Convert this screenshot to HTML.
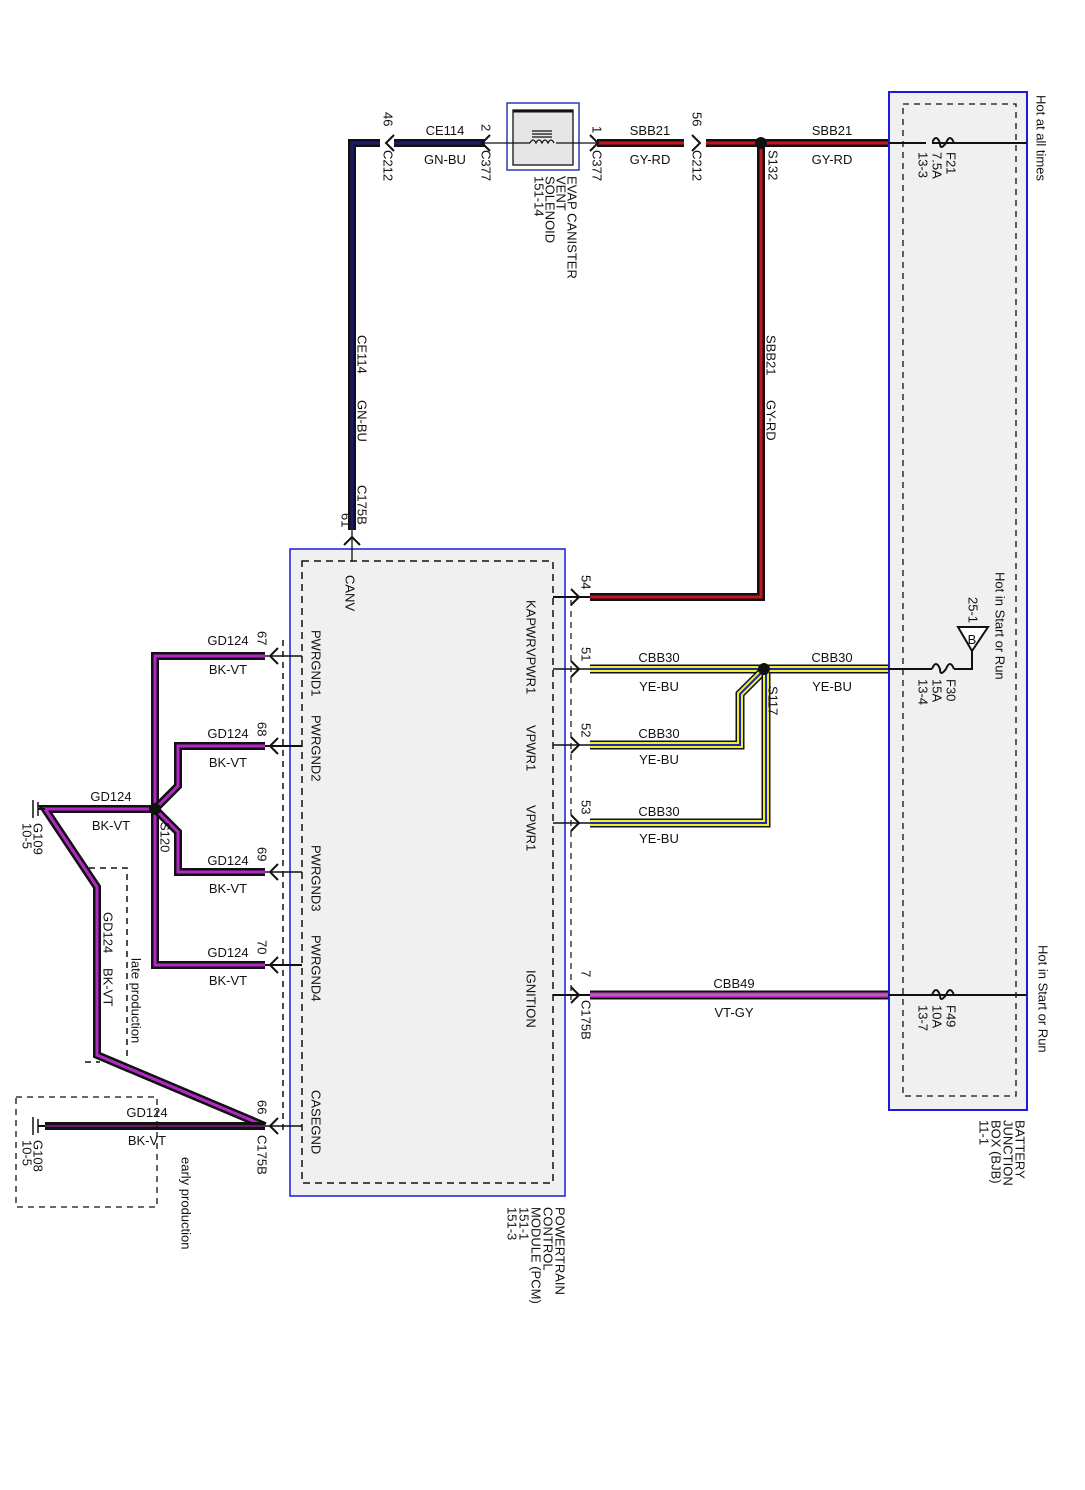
<!DOCTYPE html>
<html><head><meta charset="utf-8"><style>
html,body{margin:0;padding:0;background:#fff}
svg{display:block}
text{font-family:"Liberation Sans",sans-serif;font-size:13px;fill:#111}
.r{dominant-baseline:central}
</style></head><body>
<svg width="1085" height="1490" viewBox="0 0 1085 1490" xmlns="http://www.w3.org/2000/svg">
<!-- BJB box -->
<rect x="889" y="92" width="138" height="1018" fill="#f0f0f0" stroke="#1a1adc" stroke-width="2"/>
<rect x="903" y="104" width="113" height="992" fill="none" stroke="#111" stroke-width="1.3" stroke-dasharray="6,5"/>
<!-- PCM box -->
<rect x="290" y="549" width="275" height="647" fill="#f0f0f0" stroke="#1a1adc" stroke-width="1.5"/>
<rect x="302" y="561" width="251" height="622" fill="none" stroke="#111" stroke-width="1.5" stroke-dasharray="7,5"/>
<line x1="571" y1="600" x2="571" y2="1000" stroke="#111" stroke-width="1.2" stroke-dasharray="6,5"/>
<line x1="283" y1="640" x2="283" y2="1130" stroke="#111" stroke-width="1.5" stroke-dasharray="6,5"/>
<!-- EVAP solenoid -->
<rect x="507" y="103" width="72" height="67" fill="#fff" stroke="#2a3ab0" stroke-width="1.5"/>
<rect x="513" y="110" width="60" height="55" fill="#e6e6e6" stroke="#111" stroke-width="1.3"/>
<line x1="513" y1="111" x2="573" y2="111" stroke="#111" stroke-width="3"/>
<line x1="460" y1="143" x2="530" y2="143" stroke="#111" stroke-width="1.3"/>
<line x1="556" y1="143" x2="600" y2="143" stroke="#111" stroke-width="1.3"/>
<path d="M530 143 q3 -6 6 0 q3 -6 6 0 q3 -6 6 0 q3 -6 6 0" fill="none" stroke="#111" stroke-width="1.3"/>
<line x1="532" y1="131" x2="552" y2="131" stroke="#111" stroke-width="1.2"/>
<line x1="532" y1="134" x2="552" y2="134" stroke="#111" stroke-width="1.2"/>
<line x1="532" y1="137" x2="552" y2="137" stroke="#111" stroke-width="1.2"/>

<!-- CE114 wire -->
<g fill="none" stroke-linejoin="miter">
<path d="M485 143 H352 V530" stroke="#111" stroke-width="8"/>
<path d="M485 143 H352 V530" stroke="#1a1a70" stroke-width="3"/>
<rect x="380" y="138" width="14" height="10" fill="#fff" stroke="none"/>
<line x1="352" y1="530" x2="352" y2="561" stroke="#111" stroke-width="1.3"/>
<!-- SBB21 -->
<path d="M597 143 H888" stroke="#111" stroke-width="8"/>
<path d="M597 143 H888" stroke="#c8141e" stroke-width="3"/>
<rect x="684" y="138" width="22" height="10" fill="#fff" stroke="none"/>
<path d="M761 143 V597 H590" stroke="#111" stroke-width="8"/>
<path d="M761 143 V597 H590" stroke="#c8141e" stroke-width="3"/>
<line x1="553" y1="597" x2="590" y2="597" stroke="#111" stroke-width="2"/>
<line x1="888" y1="143" x2="1027" y2="143" stroke="#111" stroke-width="2"/>
<!-- CBB30 -->
<path d="M590 669 H888" stroke="#111" stroke-width="9"/>
<path d="M590 669 H888" stroke="#f2ee2a" stroke-width="6"/>
<path d="M590 669 H888" stroke="#1a2ab8" stroke-width="2"/>
<path d="M762 672 L740 694 V745 H590" stroke="#111" stroke-width="9"/>
<path d="M762 672 L740 694 V745 H590" stroke="#f2ee2a" stroke-width="6"/>
<path d="M762 672 L740 694 V745 H590" stroke="#1a2ab8" stroke-width="2"/>
<path d="M766 672 V823 H590" stroke="#111" stroke-width="9"/>
<path d="M766 672 V823 H590" stroke="#f2ee2a" stroke-width="6"/>
<path d="M766 672 V823 H590" stroke="#1a2ab8" stroke-width="2"/>
<line x1="553" y1="669" x2="590" y2="669" stroke="#111" stroke-width="1.5"/>
<line x1="553" y1="745" x2="590" y2="745" stroke="#111" stroke-width="1.5"/>
<line x1="553" y1="823" x2="590" y2="823" stroke="#111" stroke-width="1.5"/>
<line x1="888" y1="669" x2="932" y2="669" stroke="#111" stroke-width="2"/>
<!-- CBB49 -->
<path d="M590 995 H888" stroke="#111" stroke-width="9"/>
<path d="M590 995 H888" stroke="#c832c8" stroke-width="5"/>
<path d="M590 995 H888" stroke="#999" stroke-width="1"/>
<line x1="553" y1="995" x2="590" y2="995" stroke="#111" stroke-width="2"/>
<line x1="888" y1="995" x2="1027" y2="995" stroke="#111" stroke-width="2"/>
<!-- GD124 grounds -->
<g id="gw">
<path d="M265 656 H155 V965 H265" stroke="#111" stroke-width="8"/>
<path d="M265 656 H155 V965 H265" stroke="#b428c8" stroke-width="3"/>
<path d="M265 746 H178 V786 L158 806" stroke="#111" stroke-width="8"/>
<path d="M265 746 H178 V786 L158 806" stroke="#b428c8" stroke-width="3"/>
<path d="M158 812 L178 832 V872 H265" stroke="#111" stroke-width="8"/>
<path d="M158 812 L178 832 V872 H265" stroke="#b428c8" stroke-width="3"/>
<path d="M155 809 H45 L97 887 V1055 L265 1126" stroke="#111" stroke-width="8"/>
<path d="M155 809 H45 L97 887 V1055 L265 1126" stroke="#b428c8" stroke-width="3"/>
<path d="M45 1126 H265" stroke="#111" stroke-width="8"/>
<path d="M45 1126 H265" stroke="#6a1a6a" stroke-width="2"/>
</g>
<line x1="265" y1="656" x2="302" y2="656" stroke="#111" stroke-width="1.5"/>
<line x1="265" y1="746" x2="302" y2="746" stroke="#111" stroke-width="2"/>
<line x1="265" y1="872" x2="302" y2="872" stroke="#111" stroke-width="1.5"/>
<line x1="265" y1="965" x2="302" y2="965" stroke="#111" stroke-width="2"/>
<line x1="265" y1="1126" x2="302" y2="1126" stroke="#111" stroke-width="1.5"/>
<!-- ground symbols -->
<line x1="33" y1="800" x2="33" y2="818" stroke="#111" stroke-width="1.5"/>
<line x1="38" y1="802" x2="38" y2="816" stroke="#111" stroke-width="1.5"/>
<line x1="38" y1="809" x2="45" y2="809" stroke="#111" stroke-width="2"/>
<line x1="33" y1="1117" x2="33" y2="1135" stroke="#111" stroke-width="1.5"/>
<line x1="38" y1="1119" x2="38" y2="1133" stroke="#111" stroke-width="1.5"/>
<line x1="38" y1="1126" x2="45" y2="1126" stroke="#111" stroke-width="2"/>
<!-- dashed production boxes -->
<path d="M89 868 H127 V1060 M85 1062 H100" stroke="#111" stroke-width="1.5" stroke-dasharray="6,5"/>
<rect x="16" y="1097" width="141" height="110" stroke="#111" stroke-width="1.3" stroke-dasharray="6,5"/>
<!-- connector chevrons -->
<g stroke="#111" stroke-width="2">
<path d="M394 135 L386 143 L394 151"/>
<path d="M490 135 L482 143 L490 151"/>
<path d="M590 135 L598 143 L590 151"/>
<path d="M692 135 L700 143 L692 151"/>
<path d="M344 545 L352 537 L360 545"/>
<path d="M571 589 L579 597 L571 605"/>
<path d="M571 661 L579 669 L571 677"/>
<path d="M571 737 L579 745 L571 753"/>
<path d="M571 815 L579 823 L571 831"/>
<path d="M571 987 L579 995 L571 1003"/>
<path d="M278 648 L270 656 L278 664"/>
<path d="M278 738 L270 746 L278 754"/>
<path d="M278 864 L270 872 L278 880"/>
<path d="M278 957 L270 965 L278 973"/>
<path d="M278 1118 L270 1126 L278 1134"/>
</g>
<!-- fuses -->
<g stroke="#111" stroke-width="2">
<path d="M932 143 q4 -10 8 0 q0 8 6 0 q4 -10 8 0"/>
<path d="M932 669 q4 -10 8 0 q0 8 6 0 q4 -10 8 0"/>
<path d="M932 995 q4 -10 8 0 q0 8 6 0 q4 -10 8 0"/>
</g>
<rect x="926" y="139" width="6" height="8" fill="#f0f0f0" stroke="none"/>
<path d="M954 669 H972 V650" stroke="#111" stroke-width="2"/>
<path d="M958 627 H988 L972 651 Z" fill="#fff" stroke="#111" stroke-width="2"/>
<line x1="960" y1="669" x2="1027" y2="669" stroke="none"/>
</g>
<!-- splices -->
<circle cx="761" cy="143" r="6" fill="#111"/>
<circle cx="764" cy="669" r="6" fill="#111"/>
<circle cx="155" cy="809" r="6" fill="#111"/>

<!-- horizontal labels -->
<g text-anchor="middle">
<text x="445" y="135">CE114</text><text x="445" y="164">GN-BU</text>
<text x="650" y="135">SBB21</text><text x="650" y="164">GY-RD</text>
<text x="832" y="135">SBB21</text><text x="832" y="164">GY-RD</text>
<text x="659" y="662">CBB30</text><text x="659" y="691">YE-BU</text>
<text x="832" y="662">CBB30</text><text x="832" y="691">YE-BU</text>
<text x="659" y="738">CBB30</text><text x="659" y="764">YE-BU</text>
<text x="659" y="816">CBB30</text><text x="659" y="843">YE-BU</text>
<text x="734" y="988">CBB49</text><text x="734" y="1017">VT-GY</text>
<text x="228" y="645">GD124</text><text x="228" y="674">BK-VT</text>
<text x="228" y="738">GD124</text><text x="228" y="767">BK-VT</text>
<text x="228" y="865">GD124</text><text x="228" y="893">BK-VT</text>
<text x="228" y="957">GD124</text><text x="228" y="985">BK-VT</text>
<text x="111" y="801">GD124</text><text x="111" y="830">BK-VT</text>
<text x="147" y="1117">GD124</text><text x="147" y="1145">BK-VT</text>
<text x="972" y="644" font-size="12">B</text>
</g>

<!-- rotated labels -->
<g class="r">
<text transform="translate(388,112) rotate(90)">46</text>
<text transform="translate(388,150) rotate(90)">C212</text>
<text transform="translate(486,124) rotate(90)">2</text>
<text transform="translate(486,150) rotate(90)">C377</text>
<text transform="translate(597,126) rotate(90)">1</text>
<text transform="translate(597,150) rotate(90)">C377</text>
<text transform="translate(697,112) rotate(90)">56</text>
<text transform="translate(697,150) rotate(90)">C212</text>
<text transform="translate(773,150) rotate(90)">S132</text>
<text transform="translate(572,176) rotate(90)">EVAP CANISTER</text>
<text transform="translate(561,176) rotate(90)">VENT</text>
<text transform="translate(550,176) rotate(90)">SOLENOID</text>
<text transform="translate(539,176) rotate(90)">151-14</text>
<text transform="translate(951,152) rotate(90)">F21</text>
<text transform="translate(937,152) rotate(90)">7.5A</text>
<text transform="translate(923,152) rotate(90)">13-3</text>
<text transform="translate(1041,95) rotate(90)">Hot at all times</text>
<text transform="translate(362,335) rotate(90)">CE114</text>
<text transform="translate(362,400) rotate(90)">GN-BU</text>
<text transform="translate(362,485) rotate(90)">C175B</text>
<text transform="translate(346,513) rotate(90)">61</text>
<text transform="translate(771,335) rotate(90)">SBB21</text>
<text transform="translate(771,400) rotate(90)">GY-RD</text>
<text transform="translate(586,575) rotate(90)">54</text>
<text transform="translate(586,647) rotate(90)">51</text>
<text transform="translate(586,723) rotate(90)">52</text>
<text transform="translate(586,800) rotate(90)">53</text>
<text transform="translate(586,970) rotate(90)">7</text>
<text transform="translate(586,1000) rotate(90)">C175B</text>
<text transform="translate(773,686) rotate(90)">S117</text>
<text transform="translate(531,600) rotate(90)">KAPWR</text>
<text transform="translate(531,648) rotate(90)">VPWR1</text>
<text transform="translate(531,725) rotate(90)">VPWR1</text>
<text transform="translate(531,805) rotate(90)">VPWR1</text>
<text transform="translate(531,970) rotate(90)">IGNITION</text>
<text transform="translate(350,575) rotate(90)">CANV</text>
<text transform="translate(316,630) rotate(90)">PWRGND1</text>
<text transform="translate(316,715) rotate(90)">PWRGND2</text>
<text transform="translate(316,845) rotate(90)">PWRGND3</text>
<text transform="translate(316,935) rotate(90)">PWRGND4</text>
<text transform="translate(316,1090) rotate(90)">CASEGND</text>
<text transform="translate(262,631) rotate(90)">67</text>
<text transform="translate(262,722) rotate(90)">68</text>
<text transform="translate(262,847) rotate(90)">69</text>
<text transform="translate(262,940) rotate(90)">70</text>
<text transform="translate(262,1100) rotate(90)">66</text>
<text transform="translate(262,1135) rotate(90)">C175B</text>
<text transform="translate(165,822) rotate(90)">S120</text>
<text transform="translate(38,823) rotate(90)">G109</text>
<text transform="translate(27,823) rotate(90)">10-5</text>
<text transform="translate(38,1140) rotate(90)">G108</text>
<text transform="translate(27,1140) rotate(90)">10-5</text>
<text transform="translate(108,912) rotate(90)">GD124</text>
<text transform="translate(108,968) rotate(90)">BK-VT</text>
<text transform="translate(136,958) rotate(90)">late production</text>
<text transform="translate(186,1157) rotate(90)">early production</text>
<text transform="translate(951,679) rotate(90)">F30</text>
<text transform="translate(937,679) rotate(90)">15A</text>
<text transform="translate(923,679) rotate(90)">13-4</text>
<text transform="translate(973,597) rotate(90)">25-1</text>
<text transform="translate(1000,572) rotate(90)">Hot in Start or Run</text>
<text transform="translate(951,1005) rotate(90)">F49</text>
<text transform="translate(937,1005) rotate(90)">10A</text>
<text transform="translate(923,1005) rotate(90)">13-7</text>
<text transform="translate(1043,945) rotate(90)">Hot in Start or Run</text>
<text transform="translate(1020,1120) rotate(90)">BATTERY</text>
<text transform="translate(1008,1120) rotate(90)">JUNCTION</text>
<text transform="translate(996,1120) rotate(90)">BOX (BJB)</text>
<text transform="translate(984,1120) rotate(90)">11-1</text>
<text transform="translate(560,1207) rotate(90)">POWERTRAIN</text>
<text transform="translate(548,1207) rotate(90)">CONTROL</text>
<text transform="translate(536,1207) rotate(90)">MODULE (PCM)</text>
<text transform="translate(524,1207) rotate(90)">151-1</text>
<text transform="translate(512,1207) rotate(90)">151-3</text>
</g>
</svg>
</body></html>
